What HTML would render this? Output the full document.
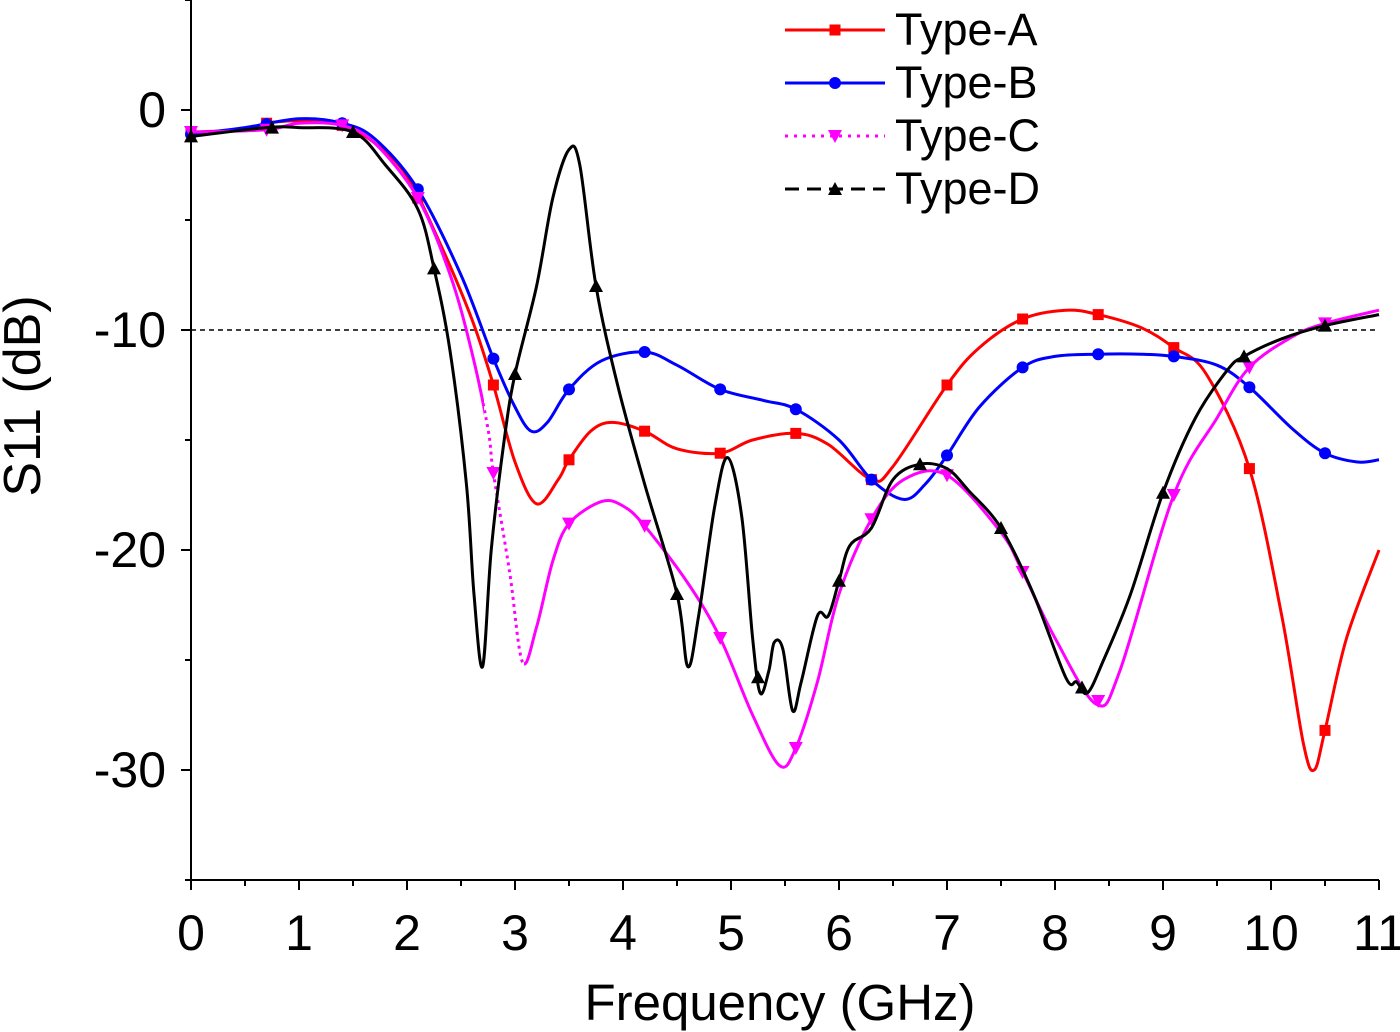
<!DOCTYPE html>
<html><head><meta charset="utf-8"><style>
body{margin:0;background:#fff}
svg{display:block;font-family:"Liberation Sans",Arial,sans-serif}
</style></head><body>
<svg id="chart" width="1400" height="1032" viewBox="0 0 1400 1032">
<defs>
<clipPath id="cDot"><rect x="484" y="0" width="40" height="1032"/></clipPath>
<clipPath id="cL"><rect x="0" y="0" width="484" height="1032"/></clipPath>
<clipPath id="cR"><rect x="524" y="0" width="900" height="1032"/></clipPath>
</defs>
<g id="grid"></g><g id="series"></g><g id="axes"></g><g id="legend"></g>
</svg>
<script>
const xTicks=[0,1,2,3,4,5,6,7,8,9,10,11];
const yTicks=[0,-10,-20,-30];
const fA=[0,0.5,0.7,1.0,1.4,1.7,2.0,2.3,2.6,2.8,3.0,3.2,3.4,3.5,3.7,3.9,4.2,4.5,4.9,5.2,5.6,5.9,6.3,6.5,7.0,7.3,7.7,8.1,8.4,8.8,9.1,9.4,9.8,10.1,10.3,10.4,10.5,10.7,11];
const sA=[-1,-0.9,-0.6,-0.5,-0.7,-1.5,-3,-6,-9.5,-12.5,-16,-17.9,-16.8,-15.9,-14.6,-14.2,-14.6,-15.4,-15.6,-15,-14.7,-15.2,-16.8,-16.2,-12.5,-10.8,-9.5,-9.1,-9.3,-9.9,-10.8,-12,-16.3,-23,-28.8,-30,-28.2,-24,-20];
const fB=[0,0.5,1.0,1.4,1.7,2.1,2.5,2.8,3.0,3.15,3.3,3.5,3.8,4.2,4.5,4.9,5.3,5.6,6.0,6.3,6.6,6.8,7.0,7.3,7.7,8.0,8.4,8.8,9.1,9.5,9.8,10.2,10.5,10.8,11];
const sB=[-1.1,-0.8,-0.4,-0.6,-1.3,-3.6,-7.5,-11.3,-13.5,-14.6,-14.2,-12.7,-11.4,-11,-11.6,-12.7,-13.2,-13.6,-15,-16.8,-17.7,-17,-15.7,-13.5,-11.7,-11.2,-11.1,-11.1,-11.2,-11.6,-12.6,-14.5,-15.6,-16,-15.9];
const fC=[0,0.7,1.0,1.4,1.7,2.1,2.4,2.6,2.75,2.8,2.95,3.07,3.2,3.35,3.5,3.8,4.0,4.2,4.6,4.9,5.2,5.45,5.6,5.8,6.0,6.3,6.6,7.0,7.5,7.7,8.0,8.38,8.6,9.1,9.5,9.8,10.2,10.5,11];
const sC=[-1,-0.9,-0.6,-0.7,-1.5,-4,-7.5,-11,-14.5,-16.5,-21,-25.1,-23.5,-20.5,-18.8,-17.8,-18,-18.9,-21.5,-24,-27.5,-29.8,-29,-26,-22,-18.6,-16.8,-16.6,-19.2,-21,-24,-27,-25.5,-17.5,-14,-11.7,-10.3,-9.7,-9.1];
const fD=[0,0.7,1.0,1.5,1.8,2.1,2.25,2.4,2.55,2.62,2.7,2.78,2.9,3.0,3.2,3.35,3.5,3.6,3.75,3.95,4.2,4.5,4.6,4.7,4.85,4.97,5.1,5.2,5.27,5.35,5.4,5.48,5.57,5.65,5.8,5.9,6.0,6.1,6.3,6.5,6.75,7.0,7.2,7.5,7.8,8.1,8.2,8.3,8.45,8.7,9.0,9.3,9.6,9.75,10.1,10.5,11];
const sD=[-1.2,-0.8,-0.8,-1,-2.5,-4.5,-7.2,-11,-17,-22,-25.3,-20,-15,-12,-8,-4,-1.8,-2.5,-8,-12.5,-17,-22,-25.3,-23,-18,-15.8,-18.5,-24,-26.5,-25.5,-24.2,-24.5,-27.3,-26,-23,-23,-21.4,-19.8,-19,-16.8,-16.1,-16.3,-17.3,-19,-22,-25.8,-26,-26.5,-25,-22,-17.4,-14,-11.8,-11.2,-10.4,-9.8,-9.3];
const mA=[0,0.7,1.4,2.1,2.8,3.5,4.2,4.9,5.6,6.3,7.0,7.7,8.4,9.1,9.8,10.5];
const mB=[0,0.7,1.4,2.1,2.8,3.5,4.2,4.9,5.6,6.3,7.0,7.7,8.4,9.1,9.8,10.5];
const mC=[0,0.7,1.4,2.1,2.8,3.5,4.2,4.9,5.6,6.3,7.0,7.7,8.4,9.1,9.8,10.5];
const mD=[0,0.75,1.5,2.25,3.0,3.75,4.5,5.25,6.0,6.75,7.5,8.25,9.0,9.75,10.5];
const NS="http://www.w3.org/2000/svg";
const X=v=>191+v*108, Y=v=>110-v*22;
function el(t,a,p){const e=document.createElementNS(NS,t);for(const k in a)e.setAttribute(k,a[k]);p.appendChild(e);return e;}
function interp(fs,ss,x){for(let i=0;i<fs.length-1;i++){if(x<=fs[i+1]){const t=(x-fs[i])/(fs[i+1]-fs[i]);return ss[i]+t*(ss[i+1]-ss[i]);}}return ss[ss.length-1];}
function smooth(fs,ss){const p=fs.map((f,i)=>[X(f),Y(ss[i])]);let d="M"+p[0][0]+","+p[0][1];
for(let i=0;i<p.length-1;i++){const p0=p[i-1]||p[i],p1=p[i],p2=p[i+1],p3=p[i+2]||p2;
d+=" C"+(p1[0]+(p2[0]-p0[0])/6)+","+(p1[1]+(p2[1]-p0[1])/6)+" "+(p2[0]-(p3[0]-p1[0])/6)+","+(p2[1]-(p3[1]-p1[1])/6)+" "+p2[0]+","+p2[1];}return d;}
const grid=document.getElementById('grid'),ser=document.getElementById('series'),ax=document.getElementById('axes'),lg=document.getElementById('legend');
const ref=el('line',{x1:191,x2:1379,y1:Y(-10),y2:Y(-10),stroke:'#000','stroke-width':1.5,'stroke-dasharray':'5,4'},grid);

function marker(type,cx,cy,col,g){let m;
if(type==='sq')m=el('rect',{x:cx-5.5,y:cy-5.5,width:11,height:11,fill:col},g);
else if(type==='ci')m=el('circle',{cx:cx,cy:cy,r:6,fill:col},g);
else if(type==='dn')m=el('polygon',{points:`${cx-7},${cy-6} ${cx+7},${cy-6} ${cx},${cy+7}`,fill:col},g);
else m=el('polygon',{points:`${cx-7},${cy+6} ${cx+7},${cy+6} ${cx},${cy-7}`,fill:col},g);return m;}
const defs=[['a',fA,sA,mA,'#ff0000','sq'],['b',fB,sB,mB,'#0000ff','ci'],['c',fC,sC,mC,'#ff00ff','dn'],['d',fD,sD,mD,'#000000','up']];
defs.forEach(([n,fs,ss,ms,col,mt])=>{
const g=el('g',{},ser);
const d=smooth(fs,ss);
if(n==='c'){
const p1=el('path',{d:d,fill:'none',stroke:col,'stroke-width':3,'clip-path':'url(#cL)'},g);

const p2=el('path',{d:d,fill:'none',stroke:col,'stroke-width':3,'stroke-dasharray':'3,4','clip-path':'url(#cDot)'},g);

const p3=el('path',{d:d,fill:'none',stroke:col,'stroke-width':3,'clip-path':'url(#cR)'},g);
}
else{const p=el('path',{d:d,fill:'none',stroke:col,'stroke-width':3},g);
}
ms.forEach(f=>{const m=marker(mt,X(f),Y(interp(fs,ss,f)),col,g);
});});
const xa=el('line',{x1:191,x2:1379,y1:880,y2:880,stroke:'#000','stroke-width':2},ax);

const ya=el('line',{x1:191,x2:191,y1:0,y2:880,stroke:'#000','stroke-width':2},ax);

for(let v=0;v<=11;v+=0.5){const maj=v%1===0;el('line',{x1:X(v),x2:X(v),y1:880,y2:880+(maj?10:6),stroke:'#000','stroke-width':2},ax);}
xTicks.forEach(v=>{const t=el('text',{x:X(v),y:950,'font-size':50,'text-anchor':'middle'},ax);t.textContent=v;
});
for(let v=5;v>=-35;v-=5){const maj=v%10===0;el('line',{x1:191,x2:191-(maj?10:6),y1:Y(v),y2:Y(v),stroke:'#000','stroke-width':2},ax);}
yTicks.forEach(v=>{const t=el('text',{x:166,y:Y(v)+17,'font-size':50,'text-anchor':'end'},ax);t.textContent=v;
});
const xt=el('text',{x:780,y:1020,'font-size':51,'text-anchor':'middle'},ax);xt.textContent='Frequency (GHz)';

const yt=el('text',{x:0,y:0,'font-size':52,'text-anchor':'middle',transform:'translate(40,396) rotate(-90)'},ax);yt.textContent='S11 (dB)';

const names=['Type-A','Type-B','Type-C','Type-D'];
defs.forEach(([n,fs,ss,ms,col,mt],i)=>{const y=30+i*53;const g=el('g',{},lg);

const da=n==='c'?'3,6':n==='d'?'14,8':null;const l=el('line',{x1:785,x2:885,y1:y,y2:y,stroke:col,'stroke-width':3},g);
if(da)l.setAttribute('stroke-dasharray',da);marker(mt,835,y,col,g);
const t=el('text',{x:895,y:y+15,'font-size':45},g);t.textContent=names[i];});
</script>
</body></html>
